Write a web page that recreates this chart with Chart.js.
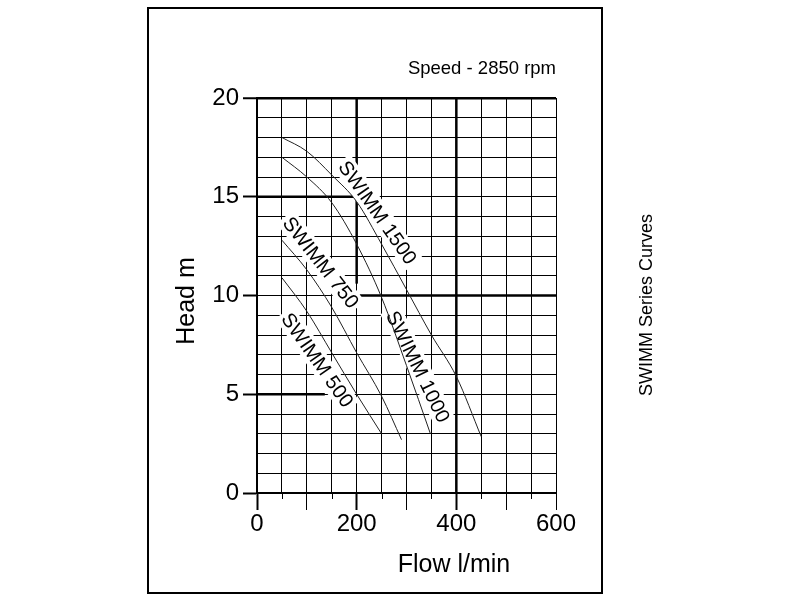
<!DOCTYPE html>
<html>
<head>
<meta charset="utf-8">
<script src="https://cdn.jsdelivr.net/npm/chart.js@4/dist/chart.umd.min.js"></script>
<style>
  body { margin: 0; background: #fff; }
</style>
</head>
<body>
<canvas id="chart" width="800" height="600"></canvas>
<script>
// pump curves (flow l/min, head m)
var flow500 = [50, 100, 150, 200, 250];
var head500 = [10.9, 9.2, 7.1, 5.0, 3.0];
var flow750 = [50, 100, 150, 200, 250, 290];
var head750 = [12.8, 11.3, 9.4, 7.1, 4.9, 2.7];
var flow1000 = [50, 100, 150, 200, 250, 300, 348];
var head1000 = [17.0, 16.0, 14.7, 12.6, 9.9, 6.45, 3.0];
var flow1500 = [50, 100, 150, 200, 250, 300, 350, 400, 450];
var head1500 = [18.0, 17.3, 16.1, 14.75, 12.6, 10.3, 8.0, 5.9, 2.85];

var seriesNames = ["SWIMM 500", "SWIMM 750", "SWIMM 1000", "SWIMM 1500"];
var xTickLabels = [0, 200, 400, 600];
var yTickLabels = [0, 5, 10, 15, 20];

var FONT = "'Liberation Sans', Arial, sans-serif";

function pts(xs, ys) {
    return xs.map(function (x, i) { return { x: x, y: ys[i] }; });
}

function curve(label, xs, ys) {
    return {
        label: label,
        data: pts(xs, ys),
        borderColor: "#222",
        borderWidth: 1,
        pointRadius: 0,
        fill: false,
        cubicInterpolationMode: "monotone"
    };
}

// heavy grid pieces + in-plot curve labels
var decor = {
    id: "decor",
    beforeDatasetsDraw: function (chart) {
        var c = chart.ctx, xs = chart.scales.x, ys = chart.scales.y;
        var area = chart.chartArea;

        function seg(x1, y1, x2, y2, w) {
            c.save();
            c.strokeStyle = "#000";
            c.lineWidth = w;
            c.beginPath();
            c.moveTo(xs.getPixelForValue(x1), ys.getPixelForValue(y1));
            c.lineTo(xs.getPixelForValue(x2), ys.getPixelForValue(y2));
            c.stroke();
            c.restore();
        }
        seg(200, 10.6, 200, 20, 2.5);
        seg(0, 15, 200, 15, 2.5);
        seg(206, 10, 600, 10, 2.5);
        seg(0, 5, 136, 5, 2.5);

        // short minor ticks under the x axis
        c.save();
        c.strokeStyle = "#000";
        c.lineWidth = 1;
        [50, 150, 250, 350, 450, 550].forEach(function (v) {
            var px = Math.round(xs.getPixelForValue(v)) + 0.5;
            c.beginPath();
            c.moveTo(px, area.bottom);
            c.lineTo(px, area.bottom + 6);
            c.stroke();
        });
        c.restore();

        var spots = [
            { x: 121, y: 6.73, a: 55 },
            { x: 128, y: 11.67, a: 52 },
            { x: 323, y: 6.4, a: 64 },
            { x: 242, y: 14.2, a: 55 }
        ];
        c.save();
        c.font = "20px " + FONT;
        c.textAlign = "center";
        c.textBaseline = "middle";
        seriesNames.forEach(function (name, i) {
            var s = spots[i];
            var w = c.measureText(name).width;
            c.save();
            c.translate(xs.getPixelForValue(s.x), ys.getPixelForValue(s.y));
            c.rotate(s.a * Math.PI / 180);
            c.fillStyle = "#fff";
            c.fillRect(-w / 2 - 3, -11, w + 6, 22);
            c.fillStyle = "#000";
            c.fillText(name, 0, 1);
            c.restore();
        });
        c.restore();

        seg(400, 0, 400, 20, 2.5);
    },
    afterDraw: function (chart) {
        var c = chart.ctx;
        c.save();
        c.strokeStyle = "#000";
        c.lineWidth = 2;
        c.strokeRect(148, 8, 454, 585);

        c.fillStyle = "#000";
        c.font = "18.5px " + FONT;
        c.textAlign = "right";
        c.textBaseline = "alphabetic";
        c.fillText("Speed - 2850 rpm", 556, 74);

        c.font = "25px " + FONT;
        c.textAlign = "center";
        c.fillText("Flow l/min", 454, 572);

        c.save();
        c.translate(194, 301);
        c.rotate(-Math.PI / 2);
        c.fillText("Head m", 0, 0);
        c.restore();

        c.save();
        c.font = "18px " + FONT;
        c.translate(652, 305);
        c.rotate(-Math.PI / 2);
        c.fillText("SWIMM Series Curves", 0, 0);
        c.restore();
        c.restore();
    }
};

var ctx = document.getElementById("chart").getContext("2d");

new Chart(ctx, {
    type: "line",
    data: {
        datasets: [
            curve(seriesNames[0], flow500, head500),
            curve(seriesNames[1], flow750, head750),
            curve(seriesNames[2], flow1000, head1000),
            curve(seriesNames[3], flow1500, head1500)
        ]
    },
    options: {
        responsive: false,
        animation: false,
        layout: {
            padding: { top: 98, right: 244, left: 0, bottom: 0 }
        },
        plugins: {
            legend: { display: false },
            tooltip: { enabled: false }
        },
        scales: {
            x: {
                type: "linear",
                min: 0,
                max: 600,
                afterFit: function (scale) { scale.height = 107; },
                border: { color: "#000", width: 2 },
                grid: {
                    color: "#000",
                    lineWidth: 1,
                    tickLength: 17,
                    tickColor: function (c) {
                        return c.tick && c.tick.value % 100 === 0 ? "#000" : "rgba(0,0,0,0)";
                    },
                    tickWidth: function (c) {
                        return c.tick && (c.tick.value === 0 || c.tick.value === 200 || c.tick.value === 400) ? 2 : 1;
                    }
                },
                ticks: {
                    stepSize: 50,
                    autoSkip: false,
                    maxRotation: 0,
                    padding: 0,
                    color: "#000",
                    font: { size: 24, family: FONT },
                    callback: function (v) {
                        return xTickLabels.indexOf(v) >= 0 ? String(v) : "";
                    }
                }
            },
            y: {
                min: 0,
                max: 20,
                afterFit: function (scale) { scale.width = 257; },
                border: { color: "#000", width: 2 },
                grid: {
                    color: "#000",
                    lineWidth: function (c) {
                        return c.tick && c.tick.value === 20 ? 2.5 : 1;
                    },
                    tickLength: 14,
                    tickColor: function (c) {
                        return c.tick && c.tick.value % 5 === 0 ? "#000" : "rgba(0,0,0,0)";
                    },
                    tickWidth: 2
                },
                ticks: {
                    stepSize: 1,
                    autoSkip: false,
                    padding: 4,
                    color: "#000",
                    font: { size: 24, family: FONT },
                    callback: function (v) {
                        return yTickLabels.indexOf(v) >= 0 ? String(v) : "";
                    }
                }
            }
        }
    },
    plugins: [decor]
});
</script>
</body>
</html>
